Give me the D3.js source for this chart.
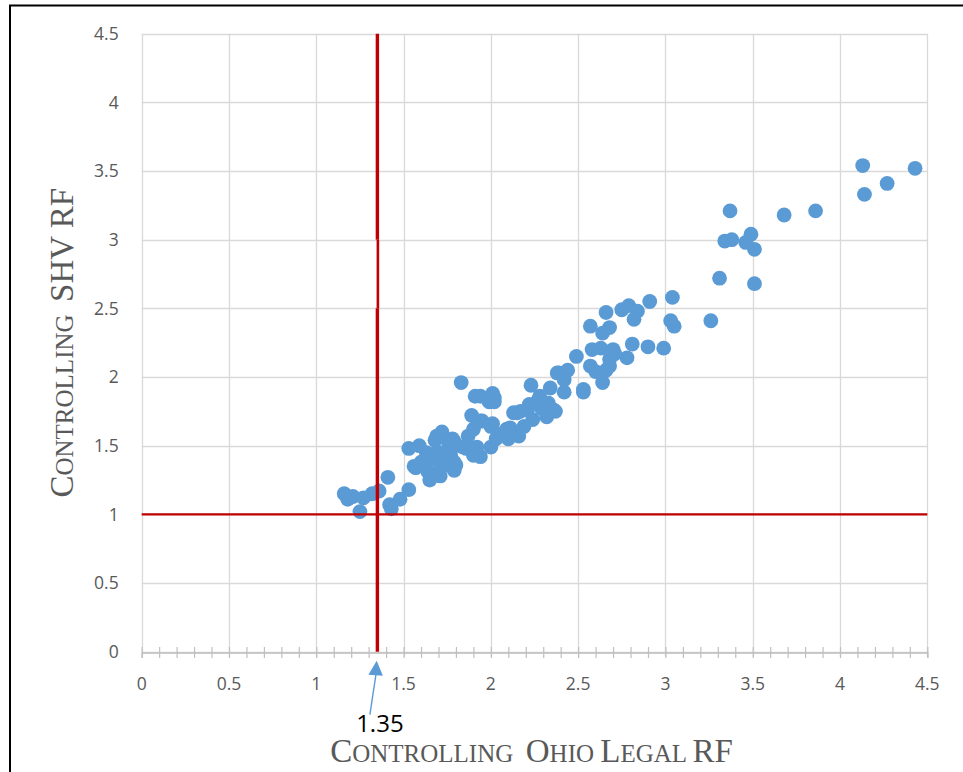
<!DOCTYPE html>
<html>
<head>
<meta charset="utf-8">
<script src="https://cdn.jsdelivr.net/npm/d3@7"></script>
<style>
  html, body { margin: 0; padding: 0; background: #fff; }
  svg { display: block; }
  text { white-space: pre; }
</style>
</head>
<body>
<svg id="chart" width="963" height="772"></svg>
<script>
// ---------------- DATA ----------------
const xTicks = [0, 0.5, 1, 1.5, 2, 2.5, 3, 3.5, 4, 4.5];
const yTicks = [0, 0.5, 1, 1.5, 2, 2.5, 3, 3.5, 4, 4.5];
const xTickLabels = ["0", "0.5", "1", "1.5", "2", "2.5", "3", "3.5", "4", "4.5"];
const yTickLabels = ["0", "0.5", "1", "1.5", "2", "2.5", "3", "3.5", "4", "4.5"];
const xTitle = "Controlling  Ohio Legal RF";
const yTitle = "Controlling  SHV RF";
const thresholdX = 1.35;   // vertical reference line
const thresholdY = 1;      // horizontal reference line
const annotationLabel = "1.35";

// Controlling Ohio Legal RF (x)
const ohioRF = [
  4.13, 4.43, 4.27, 4.14, 3.37, 3.68, 3.86, 3.34, 3.38, 3.49, 3.46, 3.51, 3.31, 3.51, 3.04, 3.03, 3.05, 3.26,
  2.91, 2.66, 2.75, 2.79, 2.84, 2.82, 2.57, 2.68, 2.64, 2.81, 2.90, 2.99, 2.78, 2.49, 2.58, 2.63, 2.70, 2.68,
  2.57, 2.60, 2.68, 2.64, 2.53, 2.44, 2.39, 2.42, 2.34, 2.23, 2.28, 2.01, 2.02, 2.71, 2.66,
  1.83, 1.91, 1.99, 2.02, 1.89, 1.94, 2.01, 2.15, 2.22, 2.36, 2.24, 2.32, 2.19, 2.11, 2.07, 2.16, 2.03, 2.00,
  1.87, 1.84, 1.92, 1.94, 1.90, 1.72, 1.68, 1.75, 1.79, 1.69, 1.77, 1.80, 1.73,
  1.90, 2.09, 2.10, 2.00, 1.95, 2.38, 2.42, 2.53, 1.94, 2.17, 2.27, 2.33, 2.37, 2.29, 2.21, 2.13,
  1.16, 1.21, 1.18, 1.27, 1.25, 1.32, 1.36, 1.41, 1.42, 1.43, 1.48, 1.53, 1.53, 1.59, 1.57, 1.60, 1.65,
  1.64, 1.69, 1.71, 1.67, 1.71, 1.69, 1.78, 1.75, 1.79, 1.79, 1.77, 1.63, 1.56, 1.86
];
// Controlling SHV RF (y)
const shvRF = [
  3.54, 3.52, 3.41, 3.33, 3.21, 3.18, 3.21, 2.99, 3.00, 3.04, 2.98, 2.93, 2.72, 2.68, 2.58, 2.41, 2.37, 2.41,
  2.55, 2.47, 2.49, 2.52, 2.48, 2.42, 2.37, 2.36, 2.32, 2.24, 2.22, 2.21, 2.14, 2.15, 2.20, 2.21, 2.20, 2.13,
  2.08, 2.04, 2.08, 1.96, 1.91, 2.05, 2.03, 1.98, 1.92, 1.94, 1.86, 1.88, 1.85, 2.17, 2.05,
  1.96, 1.86, 1.82, 1.82, 1.72, 1.68, 1.66, 1.74, 1.80, 1.76, 1.69, 1.71, 1.64, 1.63, 1.59, 1.57, 1.55, 1.49,
  1.57, 1.49, 1.49, 1.42, 1.43, 1.60, 1.54, 1.54, 1.53, 1.45, 1.43, 1.36, 1.37,
  1.62, 1.62, 1.55, 1.64, 1.68, 2.03, 1.89, 1.89, 1.86, 1.75, 1.83, 1.81, 1.75, 1.77, 1.76, 1.74,
  1.15, 1.13, 1.11, 1.12, 1.02, 1.15, 1.17, 1.27, 1.07, 1.04, 1.11, 1.18, 1.48, 1.50, 1.34, 1.38, 1.25,
  1.31, 1.30, 1.28, 1.40, 1.45, 1.57, 1.55, 1.36, 1.32, 1.38, 1.47, 1.45, 1.35, 1.48
];

// ---------------- LAYOUT ----------------
const svg = d3.select("#chart");
const plot = { left: 141.7, right: 927.3, top: 33.7, bottom: 651.7 };
const x = d3.scaleLinear().domain([0, 4.5]).range([plot.left, plot.right]);
const y = d3.scaleLinear().domain([0, 4.5]).range([plot.bottom, plot.top]);

const gridColor = "#d9d9d9";
const textColor = "#595959";

// outer frame
svg.append("rect")
  .attr("x", 10).attr("y", 5.5)
  .attr("width", 980).attr("height", 800)
  .attr("fill", "none").attr("stroke", "#000").attr("stroke-width", 2);

// gridlines
const grid = svg.append("g");
grid.selectAll("line.v").data(xTicks).join("line")
  .attr("x1", d => Math.round(x(d)) + 0.5).attr("x2", d => Math.round(x(d)) + 0.5)
  .attr("y1", y(4.5)).attr("y2", y(0) + 5)
  .attr("stroke", gridColor).attr("stroke-width", 1.3);
grid.selectAll("line.h").data(yTicks).join("line")
  .attr("x1", x(0)).attr("x2", x(4.5))
  .attr("y1", d => Math.round(y(d)) + 0.5).attr("y2", d => Math.round(y(d)) + 0.5)
  .attr("stroke", gridColor).attr("stroke-width", 1.3);

// x axis with minor ticks (every 0.1)
const minorTicks = d3.range(0, 46).map(i => i / 10);
const xAxisG = svg.append("g")
  .attr("transform", `translate(0,${Math.round(y(0)) + 0.5})`)
  .call(d3.axisBottom(x).tickValues(minorTicks).tickSize(5.5).tickFormat(""));
xAxisG.select(".domain").attr("stroke", "#bfbfbf").attr("stroke-width", 1.3);
xAxisG.selectAll(".tick line").attr("stroke", "#bfbfbf").attr("stroke-width", 1.2)
  .attr("y1", -5.5).attr("y2", 5.5);

// x tick labels
svg.append("g").selectAll("text").data(xTicks).join("text")
  .attr("x", d => x(d)).attr("y", y(0) + 38)
  .attr("text-anchor", "middle")
  .attr("font-family", "'Open Sans', sans-serif").attr("font-size", 17.5)
  .attr("fill", textColor)
  .text((d, i) => xTickLabels[i]);

// y tick labels
svg.append("g").selectAll("text").data(yTicks).join("text")
  .attr("x", plot.left - 23).attr("y", d => y(d))
  .attr("dy", "0.36em")
  .attr("text-anchor", "end")
  .attr("font-family", "'Open Sans', sans-serif").attr("font-size", 17.5)
  .attr("fill", textColor)
  .text((d, i) => yTickLabels[i]);

// points
const pts = ohioRF.map((v, i) => ({ x: v, y: shvRF[i] }));
svg.append("g").selectAll("circle").data(pts).join("circle")
  .attr("cx", d => x(d.x)).attr("cy", d => y(d.y))
  .attr("r", 7.4)
  .attr("fill", "#5b9bd5");

// reference lines
const refColor = "#c00000";
svg.append("line")
  .attr("x1", x(0)).attr("x2", x(4.5))
  .attr("y1", y(thresholdY)).attr("y2", y(thresholdY))
  .attr("stroke", refColor).attr("stroke-width", 2.2);
const vSegs = [[0, 2.5, 3.4, 0], [2.5, 3, 2.6, 0.5], [3, 4.5, 3.4, 0]];
svg.append("g").selectAll("line").data(vSegs).join("line")
  .attr("x1", d => x(thresholdX) + d[3]).attr("x2", d => x(thresholdX) + d[3])
  .attr("y1", d => y(d[0])).attr("y2", d => y(d[1]))
  .attr("stroke", refColor).attr("stroke-width", d => d[2]);

// annotation arrow + label
const ax = x(thresholdX), ay = y(0);
const arrowColor = "#5b9bd5";
svg.append("line")
  .attr("x1", ax - 7.5).attr("y1", ay + 63)
  .attr("x2", ax - 1.3).attr("y2", ay + 22)
  .attr("stroke", arrowColor).attr("stroke-width", 1.4);
svg.append("path")
  .attr("d", `M${ax - 0.7},${ay + 9} L${ax + 5.5},${ay + 24} L${ax - 9},${ay + 23} Z`)
  .attr("fill", arrowColor);
svg.append("text")
  .attr("x", ax + 2.5).attr("y", ay + 80)
  .attr("text-anchor", "middle")
  .attr("font-family", "'Open Sans', sans-serif").attr("font-size", 24)
  .attr("fill", "#000")
  .text(annotationLabel);

// small-caps titles
function smallCaps(textSel, str, big, small) {
  let buf = "", bufSmall = null;
  const flush = () => {
    if (buf.length) textSel.append("tspan").attr("font-size", bufSmall ? small : big).text(buf);
    buf = "";
  };
  for (const ch of str) {
    const s = (ch === " ") ? bufSmall : (ch !== ch.toUpperCase());
    if (bufSmall !== null && s !== bufSmall) flush();
    bufSmall = s;
    buf += ch.toUpperCase();
  }
  flush();
}

const xt = svg.append("text")
  .attr("x", (plot.left + plot.right) / 2 - 3).attr("y", 761.5)
  .attr("text-anchor", "middle")
  .attr("font-family", "'Liberation Serif', 'Times New Roman', serif")
  .attr("fill", textColor);
smallCaps(xt, xTitle, 33, 25);

const yt = svg.append("text")
  .attr("transform", `translate(72.5,${(plot.top + plot.bottom) / 2}) rotate(-90)`)
  .attr("text-anchor", "middle")
  .attr("font-family", "'Liberation Serif', 'Times New Roman', serif")
  .attr("fill", textColor);
smallCaps(yt, yTitle, 33, 25);
</script>
</body>
</html>
